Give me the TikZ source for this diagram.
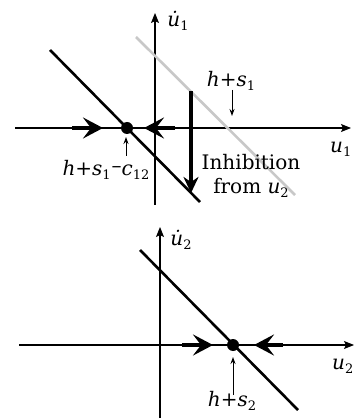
\documentclass[tikz,border=0pt]{standalone}
\usepackage{fontspec}
\setmainfont{DejaVu Serif}
\usetikzlibrary{arrows.meta}
\newcommand{\sbs}[1]{\raisebox{-0.4ex}{\fontsize{13}{13}\selectfont #1}}
\begin{document}
\begin{tikzpicture}[x=1pt,y=-1pt,
  axis/.style={line width=1.1pt,-{Stealth[length=10pt,width=8pt,inset=2pt]}},
  nullc/.style={line width=2.6pt},
  flow/.style={line width=4pt,-{Stealth[length=20pt,width=21pt,inset=8pt]}},
  inhib/.style={line width=3.5pt,-{Stealth[length=16pt,width=15pt,inset=5pt]}},
  ptr/.style={line width=1pt,-{Stealth[length=7pt,width=5pt]}},
  lbl/.style={font=\fontsize{20}{24}\selectfont, inner sep=0pt},
  fixpt/.style={circle,fill=black,inner sep=0pt,minimum size=12pt}]
\useasboundingbox (0,0) rectangle (357,419);
% ---------- top panel ----------
\coordinate (a1l) at (15,128);
\coordinate (a1r) at (351,128);
\coordinate (a1b) at (155,205);
\coordinate (a1t) at (155,13);
\draw[axis] (a1l) -- (a1r);
\draw[axis] (a1b) -- (a1t);
\coordinate (g1) at (136,37);
\coordinate (g2) at (295,195);
\draw[nullc,draw={rgb,255:red,200;green,200;blue,200}] (g1) -- (g2);
\coordinate (b1) at (50,50);
\coordinate (b2) at (200,202);
\draw[nullc] (b1) -- (b2);
\node[fixpt] (fp1) at (127,128) {};
\coordinate (f1a) at (72,128);
\coordinate (f1b) at (103,128);
\coordinate (f1c) at (175,128);
\coordinate (f1d) at (144,128);
\draw[flow] (f1a) -- (f1b);
\draw[flow] (f1c) -- (f1d);
\coordinate (i1) at (191,91);
\coordinate (i2) at (191,193);
\draw[inhib] (i1) -- (i2);
\node[lbl] (du1) at (178,21) {\textit{\.{u}}\sbs{1}};
\node[lbl,anchor=west] (u1) at (330,149) {\textit{u}\sbs{1}};
\node[lbl] (hs1) at (231,81) {\textit{h}+\textit{s}\sbs{1}};
\coordinate (p1a) at (232,90);
\coordinate (p1b) at (232,116);
\draw[ptr] (p1a) -- (p1b);
\node[lbl] (hsc) at (106,170) {\textit{h}+\textit{s}\sbs{1}\kern1pt\raisebox{0.3ex}{–}\textit{c}\sbs{12}};
\coordinate (p2a) at (126,156);
\coordinate (p2b) at (126,137);
\draw[ptr] (p2a) -- (p2b);
\node[lbl,align=center] (inh) at (251,176) {Inhibition\\from \textit{u}\sbs{2}};
% ---------- bottom panel ----------
\coordinate (a2l) at (19,345);
\coordinate (a2r) at (354,345);
\coordinate (a2b) at (160,418);
\coordinate (a2t) at (160,227);
\draw[axis] (a2l) -- (a2r);
\draw[axis] (a2b) -- (a2t);
\coordinate (c1) at (140,250);
\coordinate (c2) at (298,410);
\draw[nullc] (c1) -- (c2);
\node[fixpt] (fp2) at (233,345) {};
\coordinate (f2a) at (182,345);
\coordinate (f2b) at (213,345);
\coordinate (f2c) at (283,345);
\coordinate (f2d) at (254,345);
\draw[flow] (f2a) -- (f2b);
\draw[flow] (f2c) -- (f2d);
\node[lbl] (du2) at (181,240) {\textit{\.{u}}\sbs{2}};
\node[lbl,anchor=west] (u2) at (332,366) {\textit{u}\sbs{2}};
\node[lbl] (hs2) at (232,401) {\textit{h}+\textit{s}\sbs{2}};
\coordinate (p3a) at (233,395);
\coordinate (p3b) at (233,357);
\draw[ptr] (p3a) -- (p3b);
\end{tikzpicture}
\end{document}
